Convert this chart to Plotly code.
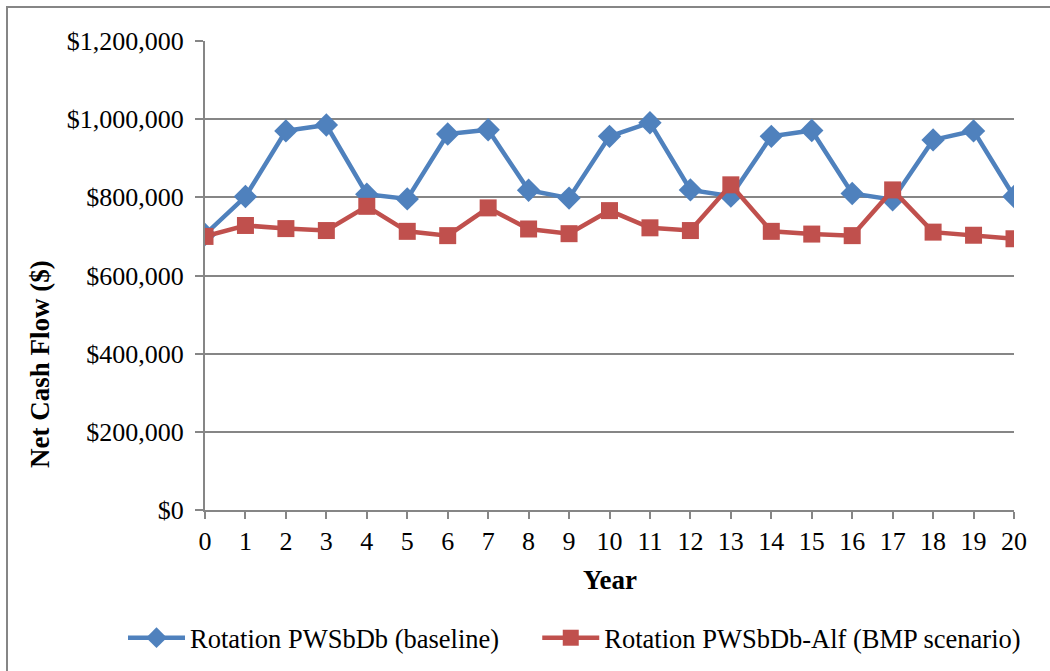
import plotly.graph_objects as go

# Net cash flow by year for two crop rotations
years = list(range(0, 21))
baseline = [705000, 802000, 970000, 985000, 808000, 796000, 962000, 973000, 818000, 798000,
            956000, 991000, 819000, 803000, 956000, 971000, 810000, 794000, 947000, 970000, 802000]
bmp = [700000, 728000, 720000, 715000, 777000, 713000, 702000, 773000, 719000, 707000,
       766000, 722000, 715000, 832000, 713000, 706000, 702000, 819000, 711000, 703000, 694000]

y_tick_vals = [0, 200000, 400000, 600000, 800000, 1000000, 1200000]
y_tick_text = ["$0", "$200,000", "$400,000", "$600,000", "$800,000", "$1,000,000", "$1,200,000"]

BLUE = "#4F81BD"
RED = "#C0504D"
FONT = "Liberation Serif"
TICK_SIZE = 26
LEGEND_SIZE = 26.5
TITLE_SIZE = 27
NBSP = "\u00a0"

fig = go.Figure()
fig.add_trace(go.Scatter(
    x=years, y=baseline, mode="lines+markers",
    # trailing non-breaking spaces widen the gap before the next legend entry
    name="Rotation PWSbDb (baseline)" + NBSP * 5,
    line=dict(color=BLUE, width=4.5),
    marker=dict(symbol="diamond", size=18, color=BLUE),
))
fig.add_trace(go.Scatter(
    x=years, y=bmp, mode="lines+markers",
    name="Rotation PWSbDb-Alf (BMP scenario)",
    line=dict(color=RED, width=4.5),
    marker=dict(symbol="square", size=17, color=RED),
))

W, H = 1050, 671
ml, mr, mt, mb = 205, 36, 41, 161
pw, ph = W - ml - mr, H - mt - mb


def px_x(x):
    return (x - ml) / pw


def px_y(y):
    return (H - mb - y) / ph


fig.update_layout(
    width=W, height=H,
    margin=dict(l=ml, r=mr, t=mt, b=mb, autoexpand=False),
    paper_bgcolor="white", plot_bgcolor="white",
    font=dict(family=FONT, size=TICK_SIZE, color="black"),
    showlegend=True,
    legend=dict(
        orientation="h",
        x=px_x(123), xanchor="left", y=px_y(638), yanchor="middle",
        font=dict(family=FONT, size=LEGEND_SIZE, color="black"), itemwidth=57,
        bgcolor="rgba(0,0,0,0)", tracegroupgap=0,
    ),
    xaxis=dict(
        range=[0, 20], tickvals=years, ticktext=[str(v) for v in years],
        showgrid=False, showline=True, linecolor="#868686", linewidth=2,
        ticks="outside", ticklen=7, tickwidth=2, tickcolor="#868686",
        tickfont=dict(family=FONT, size=TICK_SIZE), zeroline=False,
    ),
    yaxis=dict(
        range=[0, 1200000], tickvals=y_tick_vals, ticktext=y_tick_text,
        showgrid=True, gridcolor="#868686", gridwidth=2,
        showline=True, linecolor="#868686", linewidth=2,
        ticks="outside", ticklen=8, tickwidth=2, tickcolor="#868686",
        tickfont=dict(family=FONT, size=TICK_SIZE), zeroline=False,
        ticklabelstandoff=6,
    ),
    annotations=[
        dict(text="<b>Net Cash Flow ($)</b>", textangle=-90, xref="paper", yref="paper",
             x=px_x(40), y=px_y(364), xanchor="center", yanchor="middle",
             showarrow=False, font=dict(family=FONT, size=TITLE_SIZE)),
        dict(text="<b>Year</b>", xref="paper", yref="paper",
             x=px_x(610), y=px_y(580), xanchor="center", yanchor="middle",
             showarrow=False, font=dict(family=FONT, size=TITLE_SIZE)),
    ],
    shapes=[
        dict(type="rect", xref="paper", yref="paper",
             x0=px_x(7), x1=px_x(1060), y0=px_y(690), y1=px_y(7),
             line=dict(color="#868686", width=2), fillcolor="rgba(0,0,0,0)", layer="below"),
    ],
)

fig.write_html("out.html")
